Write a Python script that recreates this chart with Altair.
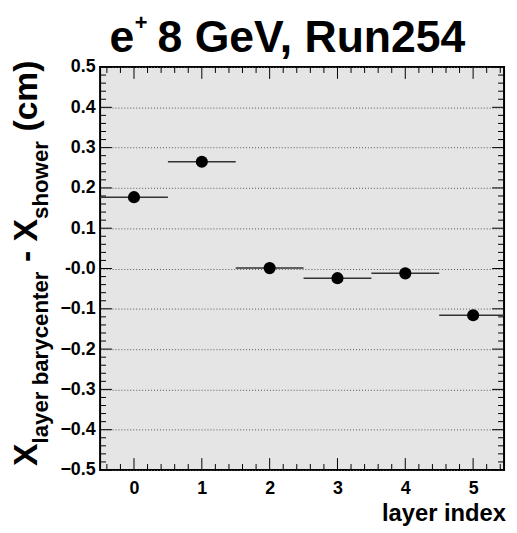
import altair as alt
import pandas as pd

# ---- data ----
layers = [0, 1, 2, 3, 4, 5]
values = [0.177, 0.265, 0.001, -0.024, -0.012, -0.116]
xerr = [0.5, 0.5, 0.5, 0.5, 0.5, 0.5]

x_major = [0, 1, 2, 3, 4, 5]
x_minor_step = 0.2
y_major = [-0.5, -0.4, -0.3, -0.2, -0.1, 0.0, 0.1, 0.2, 0.3, 0.4, 0.5]
y_minor_step = 0.02

X_DOMAIN = [-0.5, 5.456]
Y_DOMAIN = [-0.5, 0.5]

x_minor = [round(-0.4 + i * x_minor_step, 2) for i in range(30)]
x_minor = [v for v in x_minor if v < X_DOMAIN[1] and abs(v - round(v)) > 1e-6]
y_minor = [round(-0.5 + i * y_minor_step, 2) for i in range(51)]
y_minor = [v for v in y_minor if abs(v * 10 - round(v * 10)) > 1e-6]

W, H = 408, 407
FONT = "Liberation Sans"

df = pd.DataFrame({
    "layer": layers,
    "value": values,
    "lo": [l - e for l, e in zip(layers, xerr)],
    "hi": [l + e for l, e in zip(layers, xerr)],
})

xs = alt.Scale(domain=X_DOMAIN, nice=False, zero=False)
ys = alt.Scale(domain=Y_DOMAIN, nice=False, zero=False)

xaxis = alt.Axis(values=x_major, grid=False, ticks=False, domain=False, title=None,
                 labelFont=FONT, labelFontSize=18, labelFontWeight="bold",
                 labelColor="black", labelPadding=10)
yaxis = alt.Axis(values=y_major, grid=True, gridDash=[1, 2], gridColor="#555555",
                 gridWidth=1, ticks=False, domain=False, title=None,
                 labelFont=FONT, labelFontSize=18, labelFontWeight="bold",
                 labelColor="black", labelPadding=5,
                 labelExpr="abs(datum.value) < 1e-9 ? '-0.0' : format(datum.value, '.1f')")

base = alt.Chart(df)
errs = base.mark_rule(color="#333333", strokeWidth=1.5, clip=True).encode(
    x=alt.X("lo:Q", scale=xs, axis=xaxis),
    x2="hi:Q",
    y=alt.Y("value:Q", scale=ys, axis=yaxis),
)
pts = base.mark_circle(size=150, color="black", opacity=1).encode(
    x=alt.X("layer:Q", scale=xs, axis=xaxis),
    y=alt.Y("value:Q", scale=ys, axis=yaxis),
)


def xticks(vals, y0, y1):
    return alt.Chart(pd.DataFrame({"p": vals})).mark_rule(color="black", strokeWidth=1).encode(
        x=alt.X("p:Q", scale=xs, axis=xaxis), y=alt.value(y0), y2=alt.value(y1))


def yticks(vals, x0, x1):
    return alt.Chart(pd.DataFrame({"p": vals})).mark_rule(color="black", strokeWidth=1).encode(
        y=alt.Y("p:Q", scale=ys, axis=yaxis), x=alt.value(x0), x2=alt.value(x1))


ticks = [
    xticks(x_major, H, H - 12), xticks(x_minor, H, H - 6),
    xticks(x_major, 0, 12), xticks(x_minor, 0, 6),
    yticks(y_major, 0, 12), yticks(y_minor, 0, 6),
    yticks(y_major, W, W - 12), yticks(y_minor, W, W - 6),
]


def txt(s, x, y, size, angle=0, align="left"):
    return alt.Chart(pd.DataFrame({"a": [0]})).mark_text(
        text=s, font=FONT, fontWeight="bold", fontSize=size, angle=angle,
        align=align, baseline="alphabetic", color="black").encode(
        x=alt.value(x), y=alt.value(y))


texts = [
    # title  e^{+} 8 GeV, Run254
    txt("e", 9.5, -15.5, 45),
    txt("+", 35, -37, 22),
    txt("8 GeV, Run254", 58, -15.5, 45),
    # y title  X_{layer barycenter} - X_{shower} (cm)
    txt("X", -63.5, 403, 34, angle=270),
    txt("layer barycenter", -52.5, 380.3, 22.5, angle=270),
    txt("-", -63.5, 197, 34, angle=270),
    txt("X", -63.5, 176.2, 34, angle=270),
    txt("shower", -52.5, 153.5, 22.5, angle=270),
    txt("(cm)", -63.5, 65.2, 34, angle=270),
    # x title
    txt("layer index", 410, 459, 24, align="right"),
]

chart = alt.layer(errs, *ticks, pts, *texts).properties(
    width=W, height=H,
    autosize=alt.AutoSizeParams(type="none"),
    padding={"left": 93, "top": 57, "right": 5, "bottom": 58},
    background="white",
).configure_view(fill="#e5e5e5", stroke="black", strokeWidth=2)

chart.save("out.html", embed_options={"renderer": "svg", "actions": False})
